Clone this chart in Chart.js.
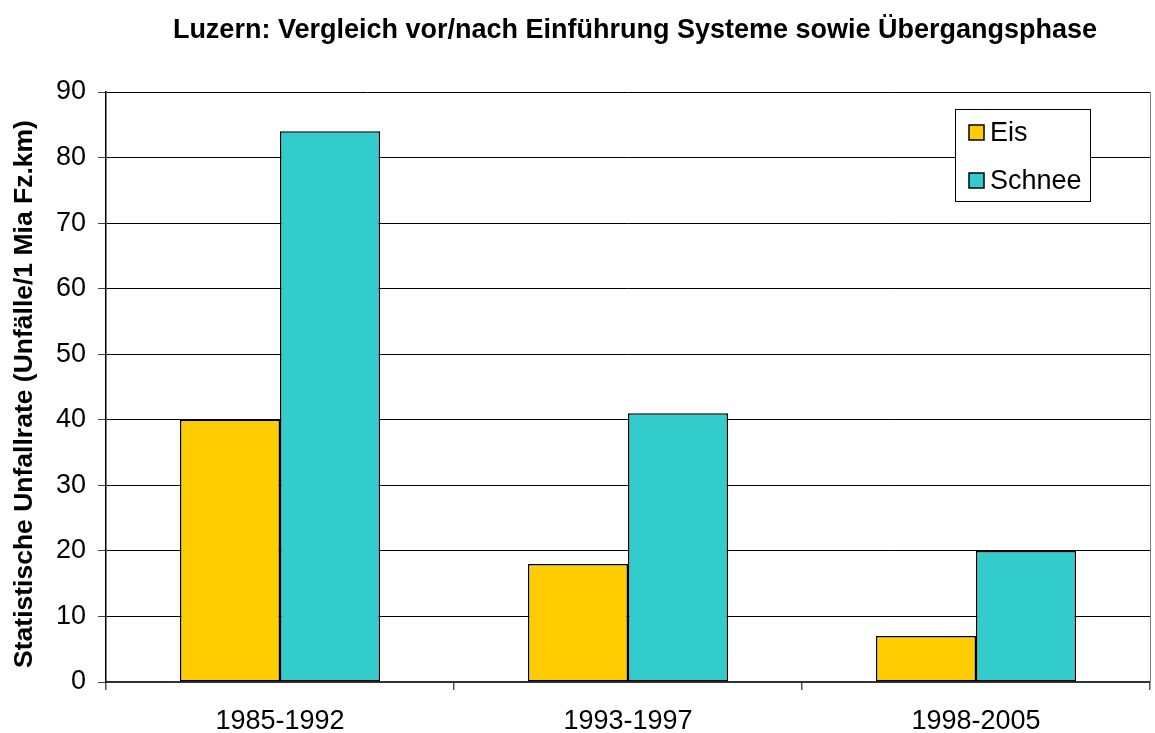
<!DOCTYPE html>
<html>
<head>
<meta charset="utf-8">
<script src="https://cdn.jsdelivr.net/npm/chart.js@4/dist/chart.umd.min.js"></script>
<style>
  html, body { margin: 0; padding: 0; background: #fff; }
  #wrap { width: 1155px; height: 733px; }
</style>
</head>
<body>
<div id="wrap"><canvas id="unfallChart" width="1155" height="733"></canvas></div>
<script>
// Zeitraeume und Unfallraten
const zeitraeume = ['1985-1992', '1993-1997', '1998-2005'];
const eisWerte = [40, 18, 7];
const schneeWerte = [84, 41, 20];
const yTicks = [0, 10, 20, 30, 40, 50, 60, 70, 80, 90];

const FONT = '"Liberation Sans", Arial, sans-serif';

// Titel, Achsentitel, Legende und Rahmen rechts selbst zeichnen
const extras = {
  id: 'extras',
  afterDraw(chart) {
    const { ctx, chartArea } = chart;
    ctx.save();

    // rechter Rahmen der Zeichenflaeche
    ctx.strokeStyle = '#808080';
    ctx.lineWidth = 1;
    ctx.beginPath();
    ctx.moveTo(chartArea.right + 0.5, chartArea.top);
    ctx.lineTo(chartArea.right + 0.5, chartArea.bottom);
    ctx.stroke();

    // Titel
    ctx.fillStyle = '#000';
    ctx.font = 'bold 27px ' + FONT;
    ctx.textAlign = 'center';
    ctx.textBaseline = 'middle';
    ctx.fillText('Luzern: Vergleich vor/nach Einführung Systeme sowie Übergangsphase', 635, 31);

    // y-Achsentitel
    ctx.save();
    ctx.font = 'bold 26.5px ' + FONT;
    ctx.translate(25, 394);
    ctx.rotate(-Math.PI / 2);
    ctx.fillText('Statistische Unfallrate (Unfälle/1 Mia Fz.km)', 0, 0);
    ctx.restore();

    // Legende
    const bx = 955, by = 109, bw = 135, bh = 92;
    ctx.fillStyle = '#fff';
    ctx.fillRect(bx, by, bw, bh);
    ctx.strokeStyle = '#000';
    ctx.lineWidth = 1;
    ctx.strokeRect(bx + 0.5, by + 0.5, bw, bh);
    ctx.font = '27px ' + FONT;
    ctx.textAlign = 'left';
    chart.data.datasets.forEach((ds, i) => {
      const cy = 133 + i * 48;
      ctx.fillStyle = ds.backgroundColor;
      ctx.fillRect(969, cy - 8, 15, 15);
      ctx.strokeStyle = '#000';
      ctx.lineWidth = 1.5;
      ctx.strokeRect(969, cy - 8, 15, 15);
      ctx.fillStyle = '#000';
      ctx.fillText(ds.label, 990, cy + 1);
    });

    ctx.restore();
  }
};

const ctx = document.getElementById('unfallChart').getContext('2d');

new Chart(ctx, {
  type: 'bar',
  data: {
    labels: zeitraeume,
    datasets: [{
      label: 'Eis',
      data: eisWerte,
      backgroundColor: '#FFCC00',
      borderColor: '#000',
      borderWidth: 1.5,
      borderSkipped: false,
      categoryPercentage: 0.575,
      barPercentage: 1
    }, {
      label: 'Schnee',
      data: schneeWerte,
      backgroundColor: '#33CCCC',
      borderColor: '#000',
      borderWidth: 1.5,
      borderSkipped: false,
      categoryPercentage: 0.575,
      barPercentage: 1
    }]
  },
  options: {
    responsive: false,
    animation: false,
    layout: { padding: { top: 92, right: 5, left: 0, bottom: 0 } },
    plugins: {
      legend: { display: false },
      title: { display: false },
      tooltip: { enabled: false }
    },
    scales: {
      x: {
        afterFit(scale) { scale.height = 51; },
        grid: {
          offset: true,
          drawOnChartArea: false,
          tickLength: 8,
          color: '#555',
          lineWidth: 1.5
        },
        border: { color: '#333', width: 2 },
        ticks: {
          color: '#000',
          font: { family: FONT, size: 27 },
          padding: 15
        }
      },
      y: {
        min: 0,
        max: 90,
        afterFit(scale) { scale.width = 106; },
        afterBuildTicks(scale) { scale.ticks = yTicks.map(v => ({ value: v })); },
        grid: {
          color: '#000',
          lineWidth: 1,
          tickLength: 8,
          tickColor: '#444'
        },
        border: { color: '#000', width: 1.5 },
        ticks: {
          color: '#000',
          font: { family: FONT, size: 27 },
          padding: 12
        }
      }
    }
  },
  plugins: [extras]
});
</script>
</body>
</html>
